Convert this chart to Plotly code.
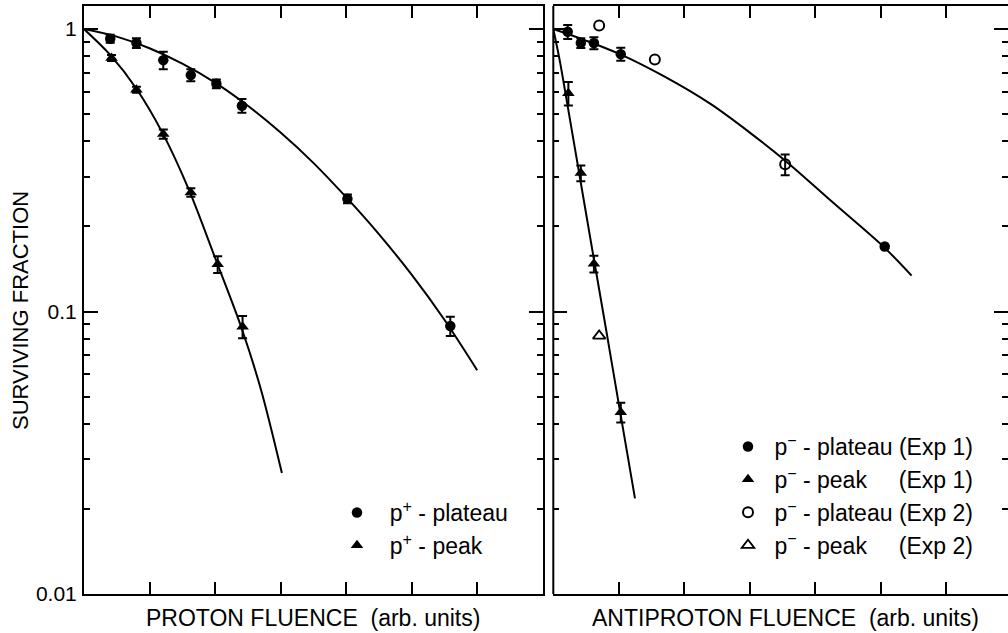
import numpy as np
import plotly.graph_objects as go

# ---------------- data ----------------
# Left panel: protons
p_plateau_x = [0.40, 0.80, 1.21, 1.63, 2.02, 2.41, 4.02, 5.59]
p_plateau_y = [0.924, 0.892, 0.776, 0.687, 0.640, 0.535, 0.2505, 0.0889]
p_plateau_err = [0.03, 0.036, 0.055, 0.034, 0.023, 0.03, 0.009, 0.007]

p_peak_x = [0.42, 0.80, 1.21, 1.63, 2.04, 2.42]
p_peak_y = [0.79, 0.61, 0.425, 0.264, 0.147, 0.0884]
p_peak_err = [0.02, 0.015, 0.016, 0.009, 0.01, 0.008]

p_plateau_fit_x = [0, 0.5, 1.0, 1.5, 2.0, 2.5, 3.0, 3.5, 4.0, 4.5, 5.0, 5.5, 6.0]
p_plateau_fit_y = [1.0, 0.94, 0.855, 0.754, 0.646, 0.535, 0.43, 0.336, 0.254, 0.188, 0.135, 0.0935, 0.062]

p_peak_fit_x = [0, 0.4, 0.8, 1.2, 1.6, 2.0, 2.4, 2.7, 3.02]
p_peak_fit_y = [1.0, 0.81, 0.615, 0.428, 0.27, 0.155, 0.088, 0.053, 0.0268]

# Right panel: antiprotons
ap_plateau1_x = [0.22, 0.42, 0.62, 1.03, 5.06]
ap_plateau1_y = [0.978, 0.892, 0.892, 0.815, 0.17]
ap_plateau1_err = [0.055, 0.036, 0.043, 0.043, np.nan]

ap_peak1_x = [0.23, 0.42, 0.62, 1.03]
ap_peak1_y = [0.593, 0.309, 0.1475, 0.044]
ap_peak1_err = [0.057, 0.02, 0.01, 0.0035]

ap_plateau2_x = [0.70, 1.55, 3.54]
ap_plateau2_y = [1.03, 0.78, 0.332]
ap_plateau2_err = [np.nan, np.nan, 0.028]

ap_peak2_x = [0.70]
ap_peak2_y = [0.082]

ap_plateau_fit_x = [0, 0.5, 1.0, 1.7, 2.4, 3.0, 3.56, 4.27, 5.06, 5.47]
ap_plateau_fit_y = [1.0, 0.91, 0.818, 0.678, 0.543, 0.43, 0.339, 0.243, 0.168, 0.134]

ap_peak_fit_x = [0, 0.1, 0.19, 0.4, 0.6, 0.8, 1.0, 1.247]
ap_peak_fit_y = [1.0, 0.77, 0.585, 0.304, 0.163, 0.088, 0.047, 0.0218]

x_tick_vals = [1, 2, 3, 4, 5, 6]
y_major_vals = [0.01, 0.1, 1]
y_major_text = ["0.01", "0.1", "1"]
y_minor_vals = [m * d for d in (0.01, 0.1) for m in range(2, 10)]

left_x_title = "PROTON FLUENCE\u00a0\u00a0(arb. units)"
right_x_title = "ANTIPROTON FLUENCE\u00a0\u00a0(arb. units)"
y_title = "SURVIVING FRACTION"

# ---------------- figure ----------------
FONT = "Liberation Sans, Arial, Helvetica, sans-serif"
BLACK = "#000000"

fig = go.Figure()

def err(arr):
    return dict(type="data", array=np.array(arr, dtype=float), visible=True,
                color=BLACK, thickness=2, width=4.5)

# fitted curves
for cx, cy, xa, ya in [(p_plateau_fit_x, p_plateau_fit_y, "x", "y"),
                       (p_peak_fit_x, p_peak_fit_y, "x", "y"),
                       (ap_plateau_fit_x, ap_plateau_fit_y, "x2", "y2"),
                       (ap_peak_fit_x, ap_peak_fit_y, "x2", "y2")]:
    fig.add_trace(go.Scatter(x=cx, y=cy, mode="lines",
                             line=dict(color=BLACK, width=2, shape="spline", smoothing=0.9),
                             showlegend=False, xaxis=xa, yaxis=ya, hoverinfo="skip"))

# left data
fig.add_trace(go.Scatter(x=p_plateau_x, y=p_plateau_y, mode="markers", error_y=err(p_plateau_err),
                         marker=dict(symbol="circle", size=10.5, color=BLACK),
                         name="\u00a0\u00a0p<sup>+</sup> - plateau", legend="legend", legendgroup="a",
                         xaxis="x", yaxis="y"))
fig.add_trace(go.Scatter(x=p_peak_x, y=p_peak_y, mode="markers", error_y=err(p_peak_err),
                         marker=dict(symbol="triangle-up", size=11, color=BLACK),
                         name="\u00a0\u00a0p<sup>+</sup> - peak", legend="legend", legendgroup="b",
                         xaxis="x", yaxis="y"))

# right data
fig.add_trace(go.Scatter(x=ap_plateau1_x, y=ap_plateau1_y, mode="markers", error_y=err(ap_plateau1_err),
                         marker=dict(symbol="circle", size=10.5, color=BLACK),
                         name="\u00a0p<sup>\u2212</sup> - plateau (Exp 1)", legend="legend2", legendgroup="c",
                         xaxis="x2", yaxis="y2"))
fig.add_trace(go.Scatter(x=ap_peak1_x, y=ap_peak1_y, mode="markers", error_y=err(ap_peak1_err),
                         marker=dict(symbol="triangle-up", size=11, color=BLACK),
                         name="\u00a0p<sup>\u2212</sup> - peak\u00a0\u00a0\u00a0\u00a0\u00a0(Exp 1)", legend="legend2", legendgroup="d",
                         xaxis="x2", yaxis="y2"))
fig.add_trace(go.Scatter(x=ap_plateau2_x, y=ap_plateau2_y, mode="markers", error_y=err(ap_plateau2_err),
                         marker=dict(symbol="circle-open", size=10, color=BLACK, line=dict(width=2, color=BLACK)),
                         name="\u00a0p<sup>\u2212</sup> - plateau (Exp 2)", legend="legend2", legendgroup="e",
                         xaxis="x2", yaxis="y2"))
fig.add_trace(go.Scatter(x=ap_peak2_x, y=ap_peak2_y, mode="markers",
                         marker=dict(symbol="triangle-up-open", size=11, color=BLACK, line=dict(width=1.8, color=BLACK)),
                         name="\u00a0p<sup>\u2212</sup> - peak\u00a0\u00a0\u00a0\u00a0\u00a0(Exp 2)", legend="legend2", legendgroup="f",
                         xaxis="x2", yaxis="y2"))

W, H = 1008, 633
L, R, T, B = 84, 0, 6, 39
pw = W - L - R
ph = H - T - B

def px2x(p):
    return (p - L) / pw

def py2y(p):
    return (H - B - p) / ph

x_common = dict(showline=True, linecolor=BLACK, linewidth=2, mirror="ticks", ticks="inside",
                ticklen=12, tickwidth=2, tickcolor=BLACK, tickvals=x_tick_vals, showticklabels=False,
                showgrid=False, zeroline=False, fixedrange=True)
y_common = dict(type="log", range=[-2, 0.0816], linecolor=BLACK, linewidth=2, mirror="ticks",
                ticks="inside", ticklen=14, tickwidth=2, tickcolor=BLACK,
                tickvals=y_major_vals, ticktext=y_major_text, showgrid=False, zeroline=False,
                minor=dict(tickvals=y_minor_vals, ticks="inside", ticklen=6, tickwidth=2, tickcolor=BLACK, showgrid=False),
                tickfont=dict(family=FONT, size=21, color=BLACK), fixedrange=True)

left_end = px2x(542.7)
right_start = px2x(553.3)
right_range = (W - 553.3) / 65.5

LEG_FONT = dict(family=FONT, size=23, color=BLACK)

fig.update_layout(
    width=W, height=H,
    margin=dict(l=L, r=R, t=T, b=B),
    paper_bgcolor="white", plot_bgcolor="white",
    font=dict(family=FONT, size=21, color=BLACK),
    xaxis=dict(domain=[0, left_end], range=[0, 7], anchor="y", **x_common),
    yaxis=dict(domain=[0, 1], anchor="x", showline=True, showticklabels=True, ticklabelstandoff=1, **y_common),
    xaxis2=dict(domain=[right_start, 1], range=[0, right_range], anchor="y2", **x_common),
    yaxis2=dict(domain=[0, 1], anchor="x2", showline=False, showticklabels=False, **y_common),
    legend=dict(x=px2x(337), y=py2y(491), xanchor="left", yanchor="top", bgcolor="rgba(0,0,0,0)",
                borderwidth=0, tracegroupgap=0, font=LEG_FONT),
    legend2=dict(x=px2x(728), y=py2y(425), xanchor="left", yanchor="top", bgcolor="rgba(0,0,0,0)",
                 borderwidth=0, tracegroupgap=0, font=LEG_FONT),
    shapes=[dict(type="line", xref="x2 domain", yref="y2 domain", x0=0, x1=0, y0=0, y1=1,
                 line=dict(color=BLACK, width=2))],
    annotations=[
        dict(text=left_x_title, xref="paper", yref="paper", x=px2x(313.4), y=py2y(618),
             xanchor="center", yanchor="middle", showarrow=False, font=dict(family=FONT, size=23, color=BLACK)),
        dict(text=right_x_title, xref="paper", yref="paper", x=px2x(785.8), y=py2y(618),
             xanchor="center", yanchor="middle", showarrow=False, font=dict(family=FONT, size=23, color=BLACK)),
        dict(text=y_title, xref="paper", yref="paper", x=px2x(20), y=py2y(311),
             xanchor="center", yanchor="middle", textangle=-90, showarrow=False,
             font=dict(family=FONT, size=22, color=BLACK)),
    ],
)

fig.write_html("out.html", post_script="document.body.style.margin='0px';",
               config={"displayModeBar": False})
